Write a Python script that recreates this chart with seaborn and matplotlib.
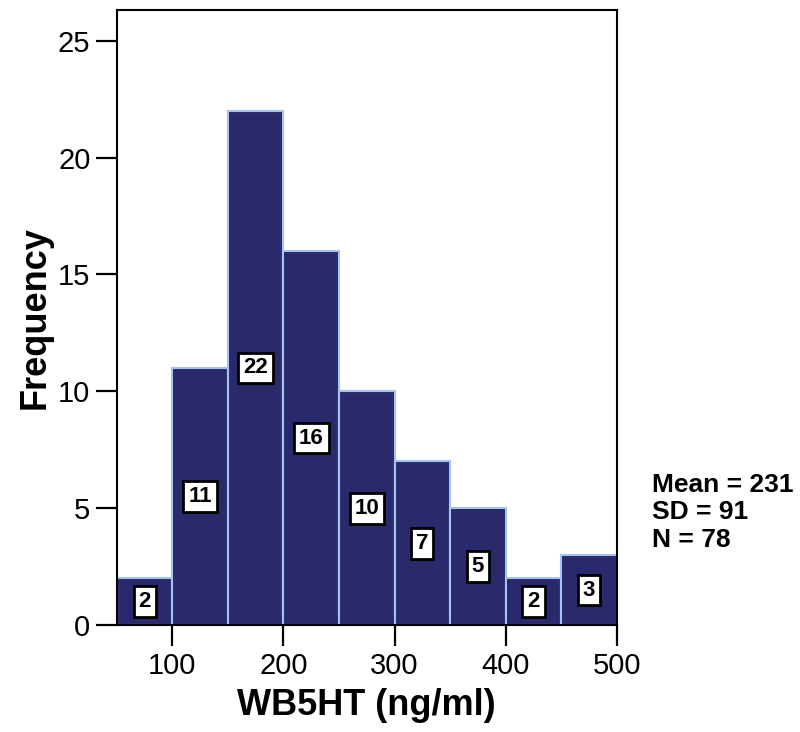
import matplotlib
matplotlib.use("Agg")
import matplotlib.pyplot as plt
import seaborn as sns
import pandas as pd

sns.set_theme(style="white")
plt.rcParams["font.family"] = ["Liberation Sans", "DejaVu Sans"]
plt.rcParams["text.color"] = "black"
plt.rcParams["axes.labelcolor"] = "black"
plt.rcParams["xtick.color"] = "black"
plt.rcParams["ytick.color"] = "black"

# histogram bins of WB5HT and counts per bin
bin_edges = [50, 100, 150, 200, 250, 300, 350, 400, 450, 500]
counts = [2, 11, 22, 16, 10, 7, 5, 2, 3]
stats_lines = ["Mean = 231", "SD = 91", "N = 78"]

centers = [(a + b) / 2 for a, b in zip(bin_edges[:-1], bin_edges[1:])]
df = pd.DataFrame({"wb5ht": centers, "n": counts})

fig = plt.figure(figsize=(8, 7.32), dpi=100)
ax = fig.add_axes([0.146, 0.146, 0.625, 0.840])

sns.histplot(data=df, x="wb5ht", weights="n", bins=bin_edges, ax=ax,
             color="#29296b", edgecolor="#a3c4f0", linewidth=1.5, alpha=1)

# count labels in white boxes at half the bar height
for c, n in zip(centers, counts):
    ax.text(c, n / 2, str(n), ha="center", va="center", fontsize=16,
            fontweight="bold", color="black",
            bbox=dict(boxstyle="square,pad=0.22", facecolor="white",
                      edgecolor="black", linewidth=2))

ax.set_xlim(50, 500)
ax.set_ylim(0, 26.3)
ax.set_xticks([100, 200, 300, 400, 500])
ax.set_yticks([0, 5, 10, 15, 20, 25])
ax.tick_params(axis="both", labelsize=21, length=15, width=1.6,
               direction="out", pad=4, bottom=True, left=True)
for s in ax.spines.values():
    s.set_visible(True)
    s.set_color("black")
    s.set_linewidth(1.5)

ax.set_xlabel("WB5HT (ng/ml)", fontsize=26, fontweight="bold", labelpad=6)
ax.set_ylabel("Frequency", fontsize=26, fontweight="bold", labelpad=4)

for yy, line in zip([0.337, 0.300, 0.262], stats_lines):
    fig.text(0.815, yy, line, fontsize=19, fontweight="bold",
             va="center", ha="left")

fig.savefig("out.png", dpi=100)
